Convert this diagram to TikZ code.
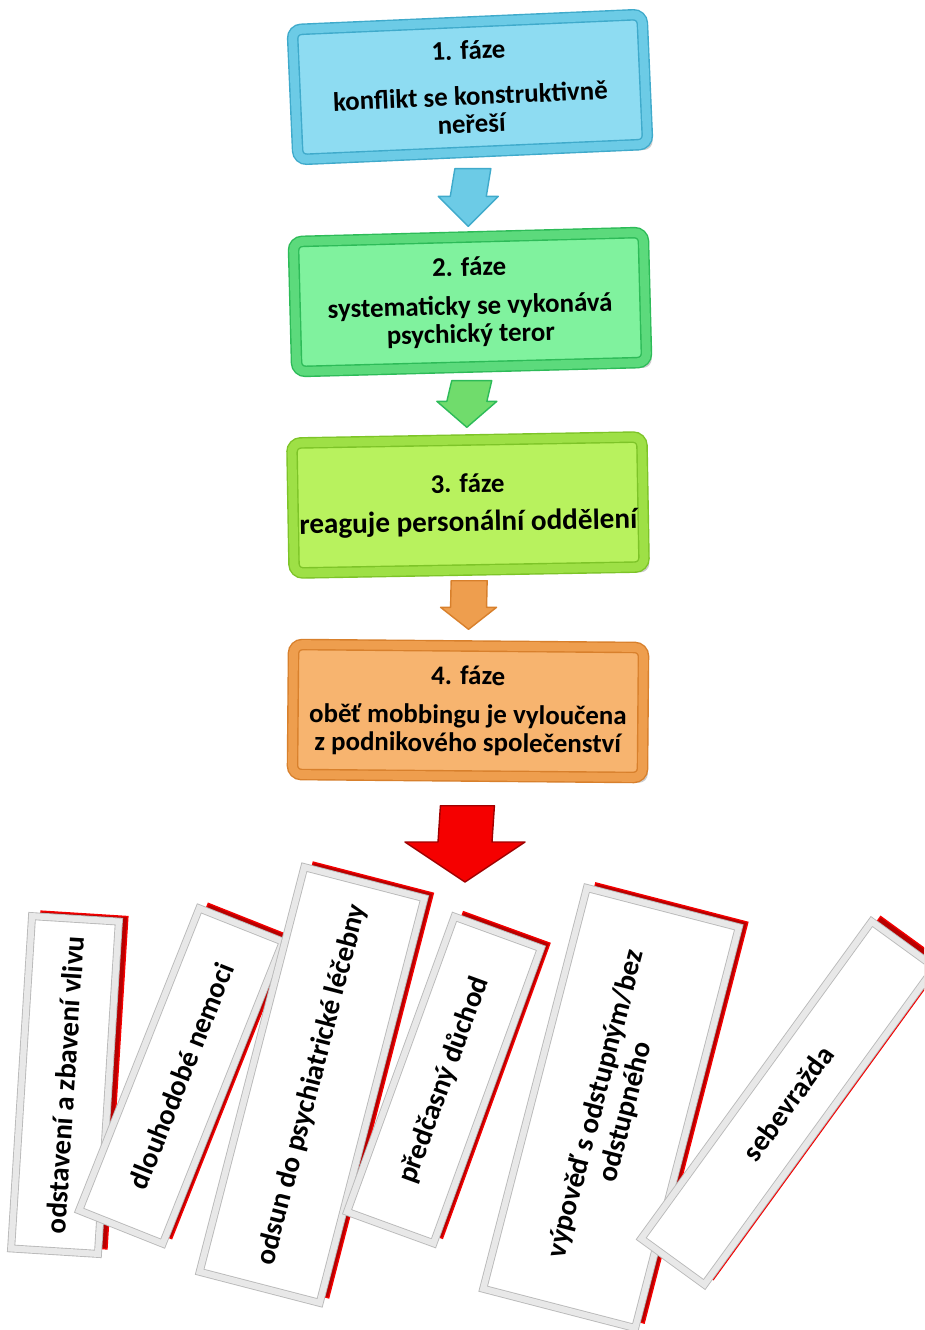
\documentclass[tikz,border=0pt]{standalone}
\usepackage{fontspec}
\setmainfont{Carlito}
\usetikzlibrary{calc,shadows}
\definecolor{ModraS}{HTML}{8EDCF2}
\definecolor{ModraP}{HTML}{6CCBE6}
\definecolor{ModraT}{HTML}{3FAACB}
\definecolor{ZelenaS}{HTML}{80F29E}
\definecolor{ZelenaP}{HTML}{5CDA7C}
\definecolor{ZelenaT}{HTML}{2DBB58}
\definecolor{ZlutaS}{HTML}{B8F25E}
\definecolor{ZlutaP}{HTML}{9EE046}
\definecolor{ZlutaT}{HTML}{7DC428}
\definecolor{OranzS}{HTML}{F7B46F}
\definecolor{OranzP}{HTML}{EE9E4E}
\definecolor{OranzT}{HTML}{D8802C}
\definecolor{Cervena}{HTML}{F50000}
\definecolor{CervenaT}{HTML}{A00000}

\tikzset{
  faze/.style n args={3}{fill=#1,draw=#3,line width=.8pt,double=#2,double distance=5pt,
    rounded corners=5pt,minimum width=350*0.02cm,minimum height=130*0.02cm,align=center,
    font=\bfseries\fontsize{15.3}{16}\selectfont,
    drop shadow={opacity=.4,shadow xshift=3pt,shadow yshift=-3pt}},
  sipka/.style n args={5}{fill=#1,draw=#2,line width=.8pt,line join=round,
    to path={($(\tikztostart)+(-#3,0)$) -- ($(\tikztostart)+(#3,0)$) -- ($(\tikztotarget)+(#3,-#5)$)
      -- ($(\tikztotarget)+(#4,-#5)$) -- (\tikztotarget) -- ($(\tikztotarget)+(-#4,-#5)$)
      -- ($(\tikztotarget)+(-#3,-#5)$) -- cycle}},
  zadek/.style={fill=Cervena!75!black,draw=Cervena,line width=.8pt},
  dusledek/.style={fill=white,draw=gray!55,line width=.5pt,double=gray!18,double distance=3.5pt,
    align=center,inner sep=2pt,font=\bfseries\fontsize{16.4}{17.5}\selectfont}
}
\newcommand\dusledek[6]{%
  \node[zadek,rotate=#3,minimum width=#4*0.02cm,minimum height=#5*0.02cm] at ($(#2)+(9,-5)$) {};
  \node[dusledek,rotate=#3,minimum width=#4*0.02cm,minimum height=#5*0.02cm] (#1) at (#2) {#6};}

\begin{document}
\begin{tikzpicture}[x=0.02cm,y=-0.02cm]
\clip (0,0) rectangle (924,1330);
\fill[white] (0,0) rectangle (924,1330);

\node[faze={ModraS}{ModraP}{ModraT},rotate=2.5] (f1) at (470,87)
  {1. fáze\\[10pt]konflikt se konstruktivně\\neřeší};
\node[faze={ZelenaS}{ZelenaP}{ZelenaT},rotate=1.5] (f2) at (470,302)
  {2. fáze\\[6pt]systematicky se vykonává\\psychický teror};
\node[faze={ZlutaS}{ZlutaP}{ZlutaT},rotate=1] (f3) at (468,505)
  {3. fáze\\[6pt]{\fontsize{16.6}{17}\selectfont reaguje personální oddělení}};
\node[faze={OranzS}{OranzP}{OranzT},rotate=-.5] (f4) at (468,711)
  {4. fáze\\[6pt]oběť mobbingu je vyloučena\\z podnikového společenství};
\coordinate (konec) at (465,882);

\draw[sipka={ModraP}{ModraT}{18}{30}{30}] ($(f1.south)+(0,16)$) to ($(f2.north)+(0,-10)$);
\draw[sipka={ZelenaP!70!ZlutaP}{ZelenaT}{20}{30}{26}] ($(f2.south)+(0,13)$) to ($(f3.north)+(0,-12)$);
\draw[sipka={OranzP}{OranzT}{18}{28}{22}] ($(f3.south)+(0,10)$) to ($(f4.north)+(0,-16)$);
\draw[sipka={Cervena}{CervenaT}{27}{60}{40}] ($(f4.south)+(0,29)$) to (konec);

\dusledek{d1}{65,1085}{86.4}{333}{87}{odstavení a zbavení vlivu}
\dusledek{d2}{181,1076}{68.3}{325}{90}{dlouhodobé nemoci}
\dusledek{d3}{312,1085}{75.5}{418}{124}{odsun do psychiatrické léčebny}
\dusledek{d4}{444,1080}{70}{314}{92}{předčasný důchod}
\dusledek{d5}{611,1108}{75.5}{414}{157}{výpověď s odstupným/bez\\odstupného}
\dusledek{d6}{788,1103}{54}{392}{78}{sebevražda}
\end{tikzpicture}
\end{document}
